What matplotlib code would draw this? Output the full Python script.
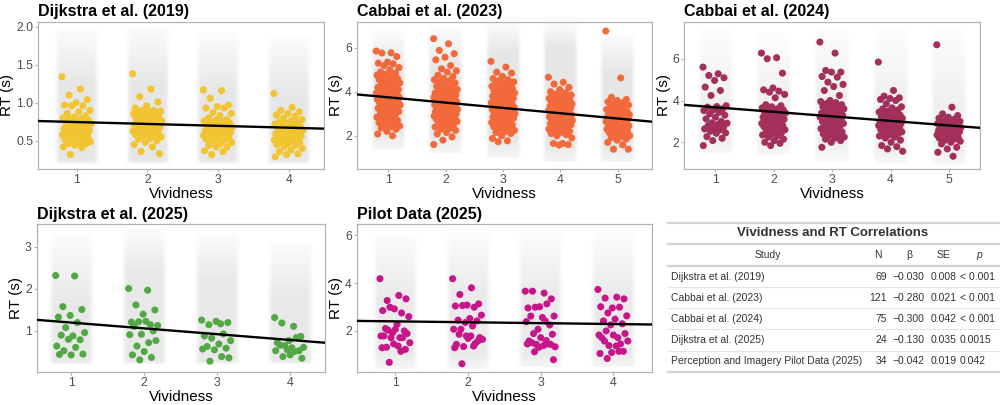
import numpy as np
import matplotlib.pyplot as plt

plt.rcParams['font.family'] = ['Liberation Sans', 'DejaVu Sans']

# --- participant mean RT (s) per vividness level ---
d2019_rt = [
    [1.34, 1.18, 1.10, 1.04, 1.00, 0.97, 0.96, 0.96, 0.90, 0.88, 0.86, 0.83, 0.81, 0.80, 0.79, 0.79, 0.77,
     0.75, 0.74, 0.73, 0.72, 0.72, 0.70, 0.69, 0.68, 0.67, 0.66, 0.65, 0.64, 0.63, 0.62, 0.61, 0.60, 0.59,
     0.58, 0.57, 0.56, 0.55, 0.54, 0.52, 0.51, 0.50, 0.49, 0.47, 0.46, 0.46, 0.44, 0.42, 0.41, 0.32],
    [1.38, 1.18, 1.08, 1.01, 0.96, 0.93, 0.90, 0.90, 0.89, 0.89, 0.88, 0.87, 0.86, 0.85, 0.84, 0.83, 0.82,
     0.80, 0.79, 0.78, 0.77, 0.76, 0.75, 0.74, 0.73, 0.72, 0.71, 0.70, 0.69, 0.68, 0.67, 0.66, 0.65, 0.64,
     0.63, 0.62, 0.61, 0.60, 0.59, 0.58, 0.57, 0.56, 0.55, 0.53, 0.52, 0.50, 0.48, 0.45, 0.42, 0.36, 0.33],
    [1.17, 1.16, 1.06, 0.97, 0.95, 0.93, 0.93, 0.87, 0.86, 0.83, 0.80, 0.78, 0.77, 0.76, 0.75, 0.74, 0.73,
     0.72, 0.71, 0.70, 0.69, 0.68, 0.67, 0.66, 0.65, 0.64, 0.63, 0.62, 0.62, 0.61, 0.60, 0.60, 0.59, 0.58,
     0.57, 0.56, 0.55, 0.54, 0.53, 0.52, 0.51, 0.50, 0.48, 0.46, 0.44, 0.42, 0.42, 0.37, 0.36, 0.32],
    [1.12, 0.94, 0.90, 0.88, 0.86, 0.84, 0.82, 0.80, 0.78, 0.76, 0.75, 0.74, 0.73, 0.72, 0.71, 0.70, 0.69,
     0.68, 0.67, 0.66, 0.65, 0.64, 0.63, 0.62, 0.61, 0.60, 0.59, 0.58, 0.57, 0.56, 0.55, 0.54, 0.53, 0.52,
     0.51, 0.50, 0.49, 0.48, 0.46, 0.45, 0.44, 0.42, 0.40, 0.38, 0.36, 0.33, 0.32, 0.29],
]
c2023_rt = [
    [5.85, 5.77, 5.76, 5.60, 5.35, 5.30, 5.27, 5.19, 5.10, 5.00, 4.90, 4.85, 4.80, 4.75, 4.70, 4.65, 4.60,
     4.60, 4.55, 4.50, 4.45, 4.40, 4.40, 4.35, 4.30, 4.25, 4.20, 4.20, 4.15, 4.10, 4.10, 4.05, 4.00, 4.00,
     3.95, 3.95, 3.90, 3.90, 3.85, 3.85, 3.80, 3.80, 3.75, 3.75, 3.70, 3.70, 3.65, 3.65, 3.60, 3.60, 3.55,
     3.55, 3.50, 3.50, 3.45, 3.40, 3.40, 3.35, 3.30, 3.30, 3.25, 3.20, 3.15, 3.10, 3.05, 3.00, 2.95, 2.90,
     2.85, 2.80, 2.75, 2.70, 2.65, 2.60, 2.55, 2.50, 2.45, 2.40, 2.35, 2.30, 2.20, 2.08, 2.00],
    [6.41, 6.18, 5.88, 5.73, 5.57, 5.45, 5.19, 5.04, 4.95, 4.89, 4.75, 4.69, 4.60, 4.55, 4.50, 4.45, 4.40,
     4.30, 4.25, 4.20, 4.15, 4.10, 4.05, 4.00, 4.00, 3.95, 3.95, 3.90, 3.90, 3.85, 3.85, 3.80, 3.80, 3.75,
     3.75, 3.70, 3.70, 3.65, 3.65, 3.60, 3.60, 3.55, 3.55, 3.50, 3.50, 3.45, 3.45, 3.40, 3.40, 3.35, 3.35,
     3.30, 3.30, 3.25, 3.25, 3.20, 3.20, 3.15, 3.15, 3.10, 3.10, 3.05, 3.05, 3.00, 3.00, 2.95, 2.95, 2.90,
     2.90, 2.85, 2.85, 2.80, 2.80, 2.75, 2.70, 2.70, 2.65, 2.60, 2.55, 2.50, 2.45, 2.40, 2.35, 2.30, 2.25,
     2.15, 2.08, 1.95, 1.80, 1.60],
    [5.38, 5.12, 4.89, 4.85, 4.70, 4.60, 4.55, 4.50, 4.45, 4.40, 4.35, 4.30, 4.30, 4.25, 4.20, 4.20, 4.15,
     4.10, 4.05, 4.00, 4.00, 3.95, 3.90, 3.90, 3.85, 3.80, 3.80, 3.75, 3.70, 3.70, 3.65, 3.60, 3.60, 3.55,
     3.50, 3.50, 3.45, 3.45, 3.40, 3.40, 3.35, 3.35, 3.30, 3.30, 3.25, 3.25, 3.20, 3.20, 3.15, 3.15, 3.10,
     3.10, 3.05, 3.05, 3.00, 3.00, 2.95, 2.95, 2.90, 2.90, 2.85, 2.85, 2.80, 2.80, 2.75, 2.70, 2.70, 2.65,
     2.60, 2.60, 2.55, 2.50, 2.45, 2.40, 2.35, 2.30, 2.25, 2.20, 2.15, 2.10, 2.00, 1.88, 1.77, 1.73],
    [4.66, 4.43, 4.35, 4.20, 4.10, 4.00, 3.95, 3.90, 3.85, 3.80, 3.75, 3.75, 3.70, 3.70, 3.65, 3.65, 3.60,
     3.60, 3.55, 3.50, 3.50, 3.45, 3.45, 3.40, 3.40, 3.35, 3.35, 3.30, 3.30, 3.25, 3.25, 3.20, 3.20, 3.15,
     3.15, 3.10, 3.10, 3.05, 3.05, 3.00, 3.00, 3.00, 2.95, 2.95, 2.90, 2.90, 2.90, 2.85, 2.85, 2.80, 2.80,
     2.80, 2.75, 2.75, 2.70, 2.70, 2.65, 2.65, 2.60, 2.60, 2.55, 2.55, 2.50, 2.50, 2.45, 2.40, 2.40, 2.35,
     2.30, 2.30, 2.25, 2.20, 2.15, 2.10, 2.05, 2.00, 1.90, 1.65, 1.65, 1.60, 1.58],
    [6.76, 4.63, 3.75, 3.65, 3.60, 3.55, 3.50, 3.45, 3.40, 3.35, 3.30, 3.30, 3.25, 3.20, 3.20, 3.15, 3.10,
     3.10, 3.05, 3.00, 3.00, 2.95, 2.95, 2.90, 2.90, 2.85, 2.85, 2.80, 2.80, 2.75, 2.75, 2.70, 2.70, 2.65,
     2.65, 2.60, 2.60, 2.55, 2.55, 2.50, 2.50, 2.45, 2.45, 2.40, 2.40, 2.35, 2.35, 2.30, 2.30, 2.25, 2.20,
     2.20, 2.15, 2.10, 2.05, 2.00, 1.95, 1.92, 1.85, 1.80, 1.70, 1.59, 1.39, 1.39],
]
c2024_rt = [
    [5.60, 5.28, 5.20, 5.09, 4.96, 4.64, 4.48, 4.24, 3.75, 3.71, 3.68, 3.60, 3.55, 3.52, 3.44, 3.36, 3.30,
     3.20, 3.12, 3.00, 2.93, 2.91, 2.85, 2.80, 2.72, 2.64, 2.64, 2.59, 2.53, 2.45, 2.43, 2.27, 2.19, 2.08, 1.84],
    [6.27, 6.05, 6.00, 5.31, 4.60, 4.51, 4.45, 4.40, 4.29, 4.13, 3.80, 3.75, 3.70, 3.65, 3.60, 3.55, 3.55,
     3.50, 3.45, 3.45, 3.40, 3.40, 3.35, 3.30, 3.30, 3.25, 3.20, 3.20, 3.15, 3.10, 3.05, 3.00, 3.00, 2.95,
     2.90, 2.90, 2.85, 2.80, 2.80, 2.75, 2.70, 2.65, 2.60, 2.55, 2.50, 2.45, 2.40, 2.35, 2.30, 2.25, 2.15,
     2.08, 2.00, 1.95, 1.84],
    [6.80, 6.27, 5.44, 5.36, 5.36, 5.15, 5.12, 4.88, 4.77, 4.67, 4.48, 4.24, 4.00, 3.95, 3.90, 3.85, 3.80,
     3.75, 3.70, 3.65, 3.60, 3.60, 3.55, 3.50, 3.50, 3.45, 3.40, 3.40, 3.35, 3.30, 3.30, 3.25, 3.25, 3.20,
     3.20, 3.15, 3.10, 3.10, 3.05, 3.00, 3.00, 2.95, 2.90, 2.85, 2.80, 2.75, 2.70, 2.65, 2.60, 2.55, 2.50,
     2.45, 2.40, 2.35, 2.32, 2.25, 2.20, 2.15, 2.08, 2.00, 1.76],
    [5.84, 4.48, 4.21, 4.13, 4.10, 4.05, 4.00, 3.85, 3.70, 3.65, 3.60, 3.55, 3.50, 3.45, 3.40, 3.35, 3.30,
     3.30, 3.25, 3.20, 3.20, 3.15, 3.10, 3.10, 3.05, 3.00, 3.00, 2.95, 2.95, 2.90, 2.90, 2.85, 2.85, 2.80,
     2.80, 2.75, 2.70, 2.70, 2.65, 2.60, 2.60, 2.55, 2.50, 2.50, 2.45, 2.40, 2.35, 2.30, 2.25, 2.20, 2.10,
     2.00, 1.84, 1.79, 1.68, 1.57],
    [6.67, 3.68, 3.36, 3.28, 3.20, 3.15, 3.10, 3.05, 3.00, 3.00, 2.95, 2.95, 2.90, 2.90, 2.85, 2.85, 2.80,
     2.80, 2.75, 2.75, 2.70, 2.70, 2.65, 2.65, 2.60, 2.60, 2.55, 2.55, 2.50, 2.50, 2.45, 2.45, 2.40, 2.40,
     2.35, 2.30, 2.30, 2.25, 2.20, 2.20, 2.15, 2.10, 2.05, 2.00, 1.92, 1.76, 1.68, 1.52, 1.33],
]
d2025_rt = [
    [2.31, 2.30, 1.57, 1.50, 1.36, 1.32, 1.19, 1.07, 0.95, 0.87, 0.89, 0.78, 0.79, 0.63, 0.60, 0.52, 0.44,
     0.42, 0.43],
    [2.00, 1.96, 1.61, 1.49, 1.39, 1.20, 1.14, 1.21, 1.12, 1.22, 1.10, 0.99, 0.91, 0.90, 0.71, 0.63, 0.76,
     0.50, 0.42, 0.36, 0.30],
    [1.25, 1.16, 1.14, 1.19, 1.22, 0.87, 0.92, 0.82, 0.76, 0.68, 0.62, 0.58, 0.54, 0.56, 0.38, 0.27, 0.35],
    [1.31, 1.10, 1.18, 0.86, 0.76, 0.71, 0.83, 0.64, 0.60, 0.59, 0.65, 0.52, 0.54, 0.52, 0.50, 0.38, 0.34,
     0.42],
]
pilot_rt = [
    [4.18, 3.48, 3.27, 3.34, 2.92, 2.85, 2.75, 2.99, 2.60, 2.28, 2.10, 2.00, 1.93, 1.79, 1.72, 2.03, 1.89,
     2.07, 1.79, 1.72, 1.72, 1.51, 1.37, 1.32, 1.23, 1.46, 1.30, 1.15, 0.69],
    [4.18, 3.80, 3.52, 3.13, 3.08, 3.04, 2.99, 3.06, 2.66, 2.52, 2.45, 2.42, 2.35, 2.07, 2.21, 2.07, 1.72,
     1.69, 1.44, 1.48, 1.35, 1.65, 1.79, 1.86, 1.58, 1.79, 1.30, 1.37, 0.63],
    [3.66, 3.58, 3.66, 3.34, 3.01, 2.96, 3.13, 2.99, 2.62, 2.56, 2.62, 2.25, 2.07, 2.39, 2.42, 1.89, 1.86,
     1.72, 1.58, 1.46, 1.44, 1.34, 1.39, 1.51, 1.44, 1.32, 1.46, 1.60, 1.13, 0.80],
    [3.73, 3.41, 3.37, 3.34, 2.96, 3.01, 2.99, 2.75, 2.63, 2.49, 2.42, 2.30, 2.25, 1.83, 1.72, 2.00, 1.89,
     1.83, 1.72, 1.46, 1.39, 1.58, 1.37, 1.58, 1.15, 1.10, 1.06, 1.15, 0.85],
]

# --- spread of the trial-level RTs per level: [min, dense low, dense high, max] ---
d2019_trials = [[0.20, 0.26, 1.25, 1.97], [0.20, 0.26, 1.25, 2.02], [0.20, 0.26, 1.15, 1.92], [0.20, 0.26, 1.10, 1.87]]
c2023_trials = [[1.4, 2.3, 5.0, 6.8], [1.2, 2.1, 5.0, 6.9], [1.0, 1.9, 5.8, 7.1], [0.8, 1.6, 6.0, 7.1], [0.8, 1.5, 5.0, 6.6]]
c2024_trials = [[1.5, 2.0, 4.0, 7.4], [1.4, 2.0, 4.0, 7.2], [1.1, 1.9, 4.2, 7.5], [1.0, 1.6, 4.0, 7.4], [0.9, 1.5, 3.8, 7.4]]
d2025_trials = [[0.2, 0.28, 1.6, 3.3], [0.2, 0.28, 2.4, 3.4], [0.2, 0.28, 2.2, 3.3], [0.2, 0.28, 1.8, 3.1]]
pilot_trials = [[0.4, 1.0, 3.5, 6.0], [0.4, 1.0, 3.5, 6.2], [0.5, 1.0, 3.6, 6.2], [0.5, 1.0, 3.6, 6.1]]

# --- fitted lines: intercept, slope ---
fit_intercept = [0.771, 3.988, 3.892, 1.328, 2.437]
fit_slope = [-0.0247, -0.241, -0.217, -0.138, -0.037]

titles = ['Dijkstra et al. (2019)', 'Cabbai et al. (2023)', 'Cabbai et al. (2024)',
          'Dijkstra et al. (2025)', 'Pilot Data (2025)']
x_limits = [(0.45, 4.50), (0.45, 5.59), (0.47, 5.53), (0.53, 4.48), (0.47, 4.53)]
y_limits = [(0.13, 2.06), (0.49, 7.17), (0.72, 7.76), (0.02, 3.53), (0.30, 6.45)]
y_ticks = [[0.5, 1.0, 1.5, 2.0], [2, 4, 6], [2, 4, 6], [1, 2, 3], [2, 4, 6]]
y_ticklabels = [['0.5', '1.0', '1.5', '2.0'], ['2', '4', '6'], ['2', '4', '6'], ['1', '2', '3'], ['2', '4', '6']]
colors = ['#F1C431', '#F26A3B', '#A2305A', '#52A844', '#C7168A']
cloud_strength = [0.6, 0.6, 0.38, 0.55, 0.5]

rt_sets = [d2019_rt, c2023_rt, c2024_rt, d2025_rt, pilot_rt]
trial_sets = [d2019_trials, c2023_trials, c2024_trials, d2025_trials, pilot_trials]

# table
study = ['Dijkstra et al. (2019)', 'Cabbai et al. (2023)', 'Cabbai et al. (2024)',
         'Dijkstra et al. (2025)', 'Perception and Imagery Pilot Data (2025)']
n_part = [69, 121, 75, 24, 34]
beta = [-0.030, -0.280, -0.300, -0.130, -0.042]
se = [0.008, 0.021, 0.042, 0.035, 0.019]
p_val = ['< 0.001', '< 0.001', '< 0.001', '0.0015', '0.042']


def jitter(n, width):
    # deterministic spread (golden ratio sequence), no randomness
    return ((np.arange(n) * 0.6180339887) % 1.0 - 0.5) * 2 * width


def draw_cloud(ax, lvl, q, strength):
    # soft grey band standing in for the trial-level points
    lo, clo, chi, hi = q
    ys = np.linspace(lo, hi, 300)
    dens = np.interp(ys, [lo, clo, chi, hi], [0.4, 1.0, 1.0, 0.12])
    dx = np.abs(np.linspace(-1, 1, 60))
    hx = np.interp(dx, [0, 0.75, 1.0], [1, 1, 0])
    img = np.zeros((len(ys), len(dx), 4))
    img[..., :3] = 0.84
    img[..., 3] = dens[:, None] * hx[None, :] * strength
    ax.imshow(img, extent=(lvl - 0.32, lvl + 0.32, lo, hi), origin='lower',
              aspect='auto', interpolation='bilinear', zorder=1)


fig = plt.figure(figsize=(10, 4.05), dpi=100)
W, H = 1000, 405
boxes = [(38, 22, 324, 169), (356.7, 22, 651.7, 169), (684.3, 22, 980, 169),
         (36.7, 224.3, 325, 371.7), (356.7, 224.3, 651.7, 371.7)]

for k in range(5):
    l, t, r, b = boxes[k]
    ax = fig.add_axes([l / W, 1 - b / H, (r - l) / W, (b - t) / H])
    levels = np.arange(1, len(rt_sets[k]) + 1)

    for lvl, q in zip(levels, trial_sets[k]):
        draw_cloud(ax, lvl, q, cloud_strength[k])

    for lvl, vals in zip(levels, rt_sets[k]):
        vals = np.array(vals)
        ax.scatter(lvl + jitter(len(vals), 0.21), vals, s=26, color=colors[k],
                   edgecolors='none', zorder=3)

    xs = np.array(x_limits[k])
    ax.plot(xs, fit_intercept[k] + fit_slope[k] * xs, color='black', lw=1.7, zorder=4)

    ax.set_xlim(*x_limits[k])
    ax.set_ylim(*y_limits[k])
    ax.set_xticks(levels)
    ax.set_yticks(y_ticks[k])
    ax.set_yticklabels(y_ticklabels[k])
    ax.tick_params(colors='#b3b3b3', labelcolor='#4d4d4d', labelsize=8.8, length=2, width=0.8, pad=1.5)
    for s in ax.spines.values():
        s.set_color('#b3b3b3')
        s.set_linewidth(0.9)
    ax.set_xlabel('Vividness', fontsize=11, labelpad=1)
    ax.set_ylabel('RT (s)', fontsize=11, labelpad=1.5)
    ax.set_title(titles[k], loc='left', fontsize=11.5, fontweight='bold', pad=4)

# --- table ---
tab = fig.add_axes([0, 0, 1, 1])
tab.set_xlim(0, W)
tab.set_ylim(H, 0)
tab.axis('off')
tcol = '#333333'
for yy in [223, 244.3, 265.7, 371.7]:
    tab.plot([668, 1000], [yy, yy], color='#d3d3d3', lw=1.6)
for yy in [287.3, 308.3, 329.3, 350.7]:
    tab.plot([668, 1000], [yy, yy], color='#e3e3e3', lw=0.8)

tab.text(833, 233.5, 'Vividness and RT Correlations', ha='center', va='center',
         fontsize=9.5, fontweight='bold', color=tcol)
hdr_y = 255
tab.text(767.7, hdr_y, 'Study', ha='center', va='center', fontsize=7.5, color=tcol)
tab.text(878.3, hdr_y, 'N', ha='center', va='center', fontsize=7.5, color=tcol)
tab.text(909.3, hdr_y, '\u03b2', ha='center', va='center', fontsize=7.5, color=tcol)
tab.text(943.3, hdr_y, 'SE', ha='center', va='center', fontsize=7.5, color=tcol)
tab.text(979, hdr_y, 'p', ha='center', va='center', fontsize=7.5, color=tcol, style='italic')

row_y = [276.7, 297.7, 319, 340, 361]
for i in range(5):
    y = row_y[i]
    tab.text(671, y, study[i], ha='left', va='center', fontsize=7.5, color=tcol)
    tab.text(886.7, y, str(n_part[i]), ha='right', va='center', fontsize=7.5, color=tcol)
    tab.text(924.3, y, f'{beta[i]:.3f}'.replace('-', '\u2212'), ha='right', va='center',
             fontsize=7.5, color=tcol)
    tab.text(956.7, y, f'{se[i]:.3f}', ha='right', va='center', fontsize=7.5, color=tcol)
    tab.text(960, y, p_val[i], ha='left', va='center', fontsize=7.5, color=tcol)

fig.savefig('out.png', dpi=100)
